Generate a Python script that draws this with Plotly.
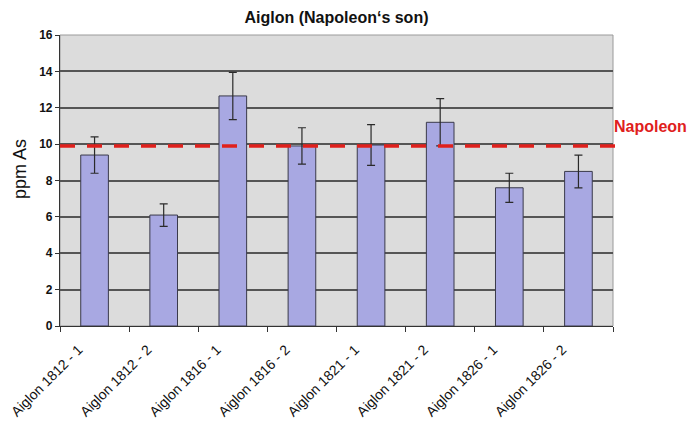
import plotly.graph_objects as go

categories = ["Aiglon 1812 - 1", "Aiglon 1812 - 2", "Aiglon 1816 - 1", "Aiglon 1816 - 2",
              "Aiglon 1821 - 1", "Aiglon 1821 - 2", "Aiglon 1826 - 1", "Aiglon 1826 - 2"]
ppm_as = [9.4, 6.1, 12.65, 9.9, 9.95, 11.2, 7.6, 8.5]
errors = [1.0, 0.62, 1.3, 1.0, 1.12, 1.3, 0.8, 0.9]
napoleon_level = 9.9
y_ticks = [0, 2, 4, 6, 8, 10, 12, 14, 16]

L, R, T, B = 60, 77, 35, 98
W, H = 690, 424
pw = W - L - R
ph = H - T - B

fig = go.Figure()
fig.add_trace(go.Bar(
    x=categories, y=ppm_as,
    marker=dict(color="#A8A8E2", line=dict(color="#3a3a4a", width=1)),
    error_y=dict(type="data", array=errors, visible=True, color="#2a2a2a", thickness=1.2, width=4),
    width=0.4,
))

# Napoleon reference line
fig.add_shape(type="line", xref="paper", yref="y", x0=0, x1=1 + 11 / pw,
              y0=napoleon_level, y1=napoleon_level,
              line=dict(color="#E0201C", width=3.5, dash="15px,12px"), layer="above")
fig.add_annotation(text="<b>Napoleon</b>", xref="paper", yref="y", x=1 + (W - 1 - (W - R)) / pw,
                   y=napoleon_level, xanchor="right", yanchor="middle", yshift=19, showarrow=False,
                   font=dict(color="#E0201C", size=16, family="Liberation Sans, Arial"))
# y-axis title
fig.add_annotation(text="ppm As", xref="paper", yref="paper", x=(20 - L) / pw, y=(H - B - 169) / ph,
                   xanchor="center", yanchor="middle", textangle=-90, showarrow=False,
                   font=dict(size=18, family="Liberation Sans, Arial", color="#111"))
# plot border (light)
fig.add_shape(type="rect", xref="paper", yref="paper", x0=0, x1=1, y0=0, y1=1,
              line=dict(color="#9a9a9a", width=1), layer="below")

fig.update_layout(
    width=W, height=H,
    margin=dict(l=L, r=R, t=T, b=B, autoexpand=False),
    paper_bgcolor="white", plot_bgcolor="#DCDCDC",
    showlegend=False,
    title=dict(text="<b>Aiglon (Napoleon‘s son)</b>", x=(L + W - R) / 2 / W, xanchor="center",
               y=1 - 17 / H, yanchor="middle",
               font=dict(size=16, family="Liberation Sans, Arial", color="#111")),
    font=dict(family="Liberation Sans, Arial", color="#111"),
)
fig.update_xaxes(
    tickangle=-45, tickfont=dict(size=14), automargin=False,
    ticklabelshift=-16, ticklabelstandoff=9,
    showline=True, linecolor="#333", linewidth=1.2,
    ticks="outside", tickson="boundaries", ticklen=5, tickcolor="#333",
    showgrid=False,
)
fig.update_yaxes(
    range=[0, 16], tickvals=y_ticks, ticktext=[f"<b>{v}</b>" for v in y_ticks],
    tickfont=dict(size=12), automargin=False,
    showgrid=True, gridcolor="#555", gridwidth=1.5,
    showline=True, linecolor="#333", linewidth=1.2,
    ticks="outside", ticklen=4, tickcolor="#333",
    zeroline=False,
)

fig.write_html("out.html", config={"displayModeBar": False},
               post_script="document.body.style.margin='0';document.body.style.overflow='hidden';")
